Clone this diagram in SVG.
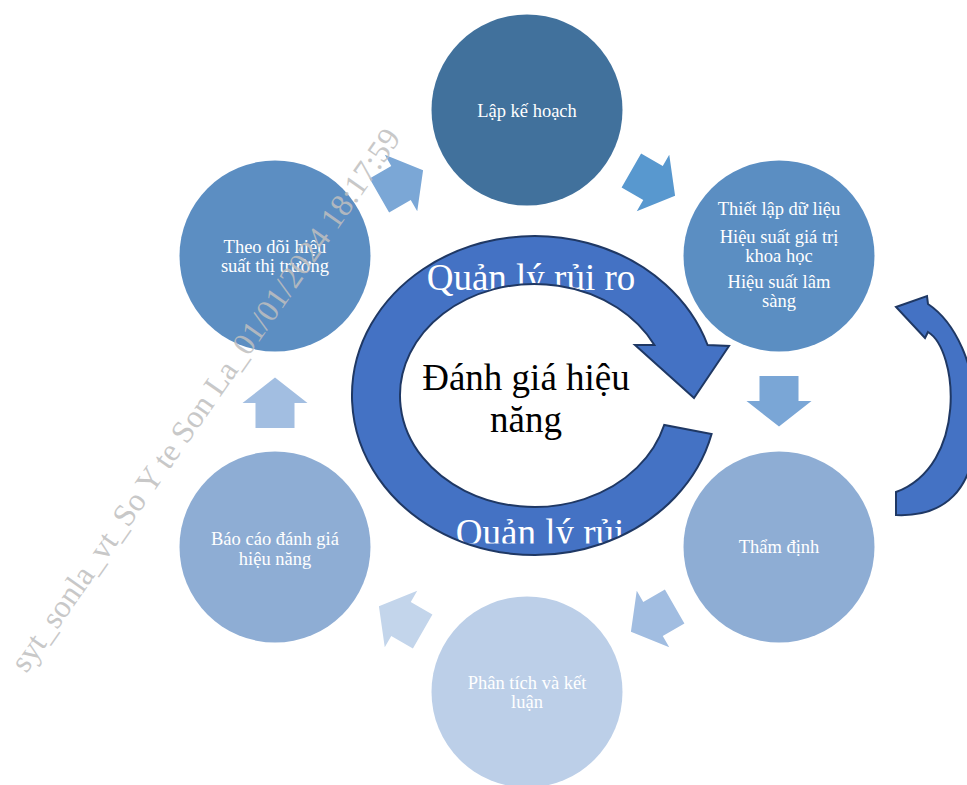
<svg xmlns="http://www.w3.org/2000/svg" width="967" height="785" viewBox="0 0 967 785">
<style>
.lbl{font-family:"Liberation Serif","Times New Roman",serif;font-size:18.5px;fill:#ffffff;text-anchor:middle}
.big{font-family:"Liberation Serif","Times New Roman",serif;font-size:37px;text-anchor:middle}
.ringfill{fill:#4472c4}
.edge{fill:none;stroke:#1f3864;stroke-width:2;stroke-linejoin:miter}
.wm{font-family:"Liberation Serif","Times New Roman",serif;font-size:32px;fill:#bfbfbf;opacity:0.85;text-anchor:middle}
</style>
<defs>
<path id="arr" d="M-25,-19.5H0V-32.5L25.5,0L0,32.5V19.5H-25Z"/>
<path id="ringShape" d="M711.6,434 A182.5,159.5 0 1 1 707.6,345 L729,346 L694,398 L635,345 L654.4,345 A134.5,111.5 0 1 0 664.2,425 Z"/>
<path id="arcShape" d="M896,515 C940,517 978,495 976,418 C976,365 955,322 928,304 L927,296 L896,307 L925,338 L928,332 C958,350 968,465 896,492 Z"/>
<clipPath id="clipBottom"><rect x="0" y="0" width="967" height="543.5"/></clipPath>
</defs>
<rect width="967" height="785" fill="#ffffff"/>

<g id="node-lap-ke-hoach">
<circle cx="527" cy="110" r="95.5" fill="#41719c"/>
<text class="lbl" x="527" y="117">Lập kế hoạch</text>
</g>
<g id="node-thiet-lap-du-lieu">
<circle cx="779" cy="256" r="95.5" fill="#5b8ec2"/>
<text class="lbl" x="779" y="215">Thiết lập dữ liệu</text>
<text class="lbl" x="779" y="243">Hiệu suất giá trị</text>
<text class="lbl" x="779" y="262">khoa học</text>
<text class="lbl" x="779" y="288">Hiệu suất lâm</text>
<text class="lbl" x="779" y="307">sàng</text>
</g>
<g id="node-tham-dinh">
<circle cx="779" cy="547" r="95.5" fill="#8eadd4"/>
<text class="lbl" x="779" y="553">Thẩm định</text>
</g>
<g id="node-phan-tich">
<circle cx="527" cy="692" r="95.5" fill="#bccfe8"/>
<text class="lbl" x="527" y="689">Phân tích và kết</text>
<text class="lbl" x="527" y="708">luận</text>
</g>
<g id="node-bao-cao">
<circle cx="275" cy="547" r="95.5" fill="#8eadd4"/>
<text class="lbl" x="275" y="545">Báo cáo đánh giá</text>
<text class="lbl" x="275" y="565">hiệu năng</text>
</g>
<g id="node-theo-doi">
<circle cx="275" cy="256" r="95.5" fill="#5c8ec2"/>
<text class="lbl" x="275" y="253">Theo dõi hiệu</text>
<text class="lbl" x="275" y="272">suất thị trường</text>
</g>

<g id="connectors">
<use href="#arr" transform="translate(401,183) rotate(-30)" fill="#7ba7d6"/>
<use href="#arr" transform="translate(653,183) rotate(30)" fill="#5898cf"/>
<use href="#arr" transform="translate(779,401) rotate(90)" fill="#7aa6d6"/>
<use href="#arr" transform="translate(653,619) rotate(150)" fill="#a1bde1"/>
<use href="#arr" transform="translate(401,619) rotate(210)" fill="#c3d5eb"/>
<use href="#arr" transform="translate(275,403) rotate(270)" fill="#a2bee1"/>
</g>

<g id="node-center-cycle">
<use href="#ringShape" class="ringfill"/>
<text class="big" x="531" y="290" fill="#ffffff">Quản lý rủi ro</text>
<g clip-path="url(#clipBottom)">
<text class="big" x="540" y="545" fill="#ffffff">Quản lý rủi</text>
</g>
<use href="#ringShape" class="edge"/>
<text class="big" x="526" y="390" fill="#000000">Đánh giá hiệu</text>
<text class="big" x="526" y="432" fill="#000000">năng</text>
</g>

<g id="node-feedback-arc">
<use href="#arcShape" class="ringfill"/>
<use href="#arcShape" class="edge"/>
</g>

<text class="wm" x="214" y="406" transform="rotate(-55 214 406)">syt_sonla_vt_So Y te Son La_01/01/2024 18:17:59</text>
</svg>
